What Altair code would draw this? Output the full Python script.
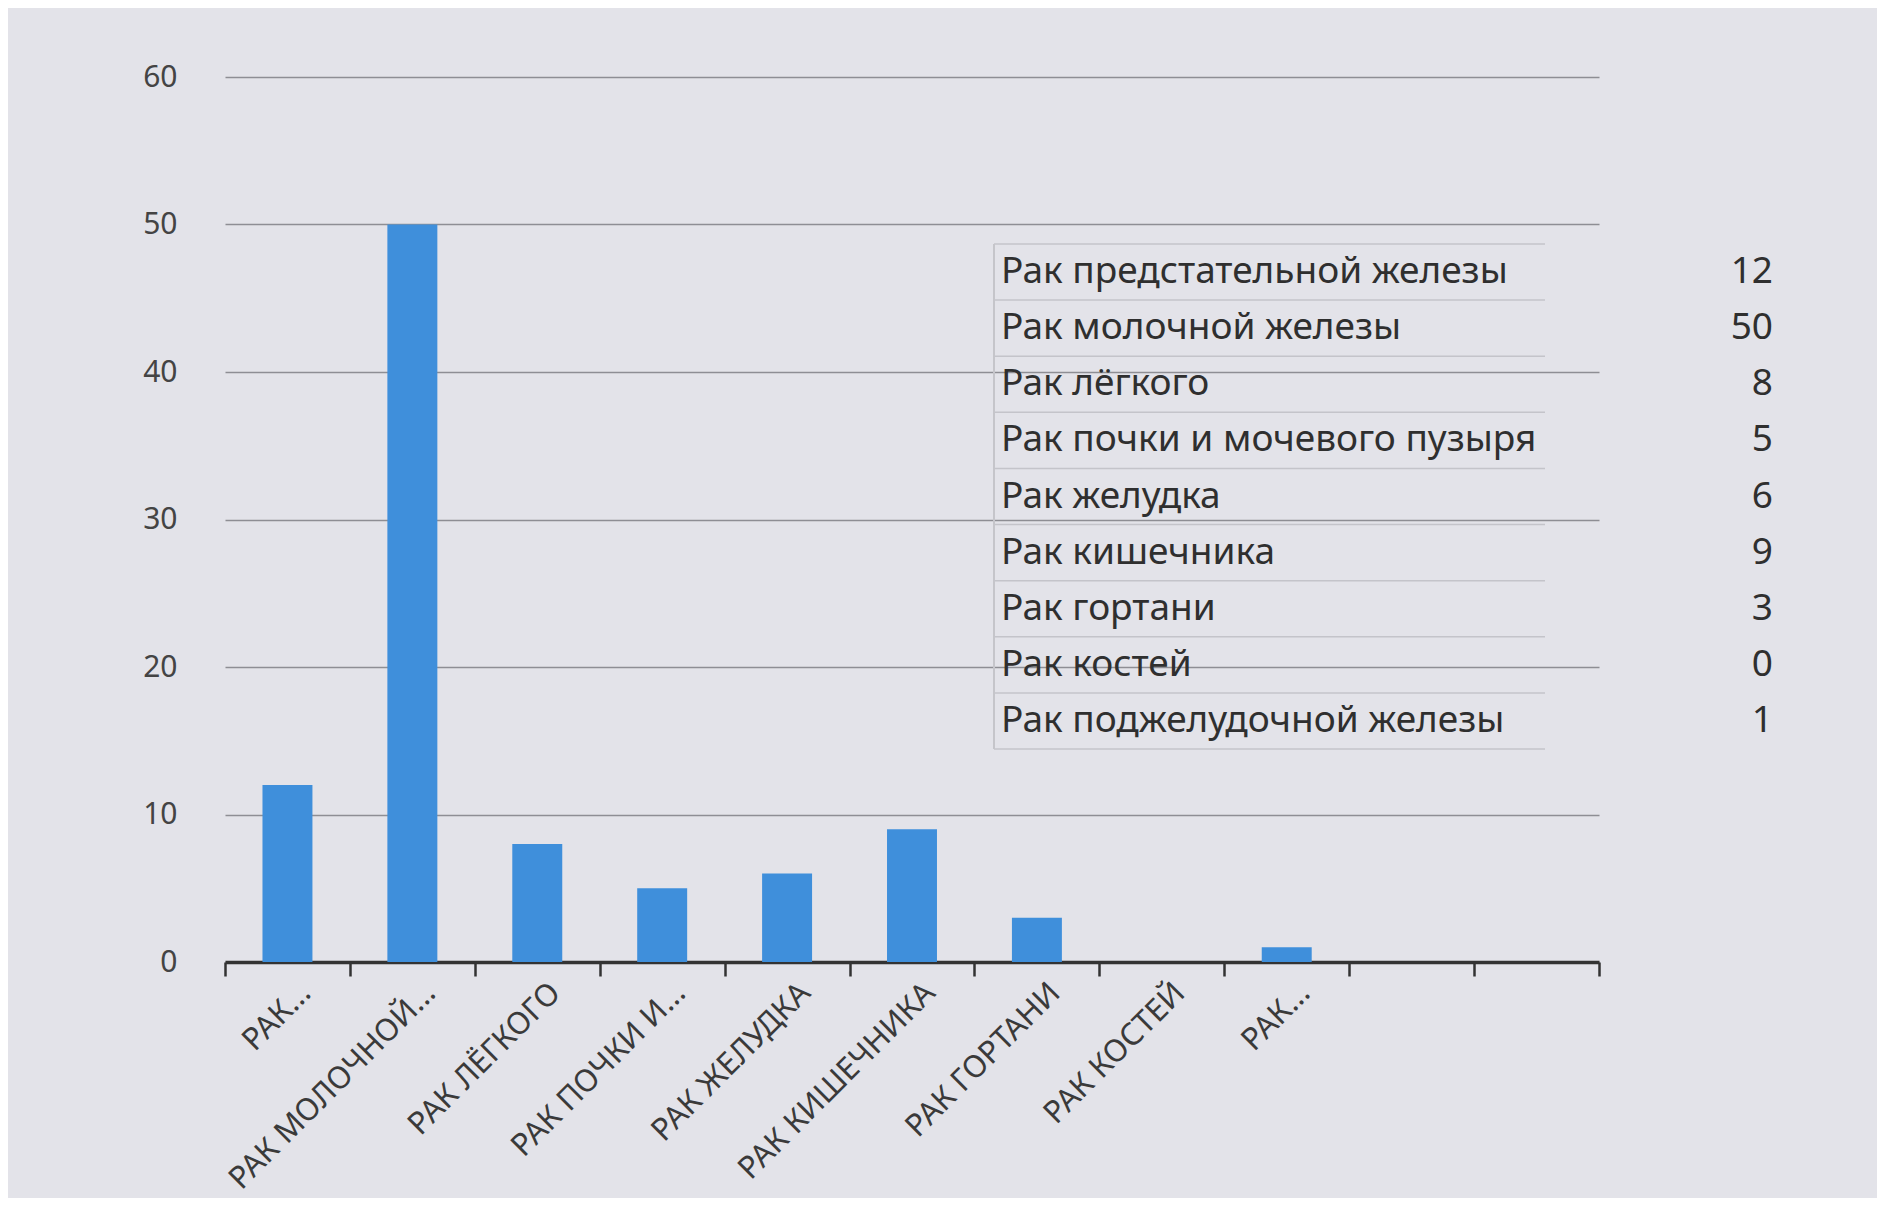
import json
import altair as alt
import pandas as pd

# ---- data ----
categories = [
    "Рак предстательной железы",
    "Рак молочной железы",
    "Рак лёгкого",
    "Рак почки и мочевого пузыря",
    "Рак желудка",
    "Рак кишечника",
    "Рак гортани",
    "Рак костей",
    "Рак поджелудочной железы",
]
values = [12, 50, 8, 5, 6, 9, 3, 0, 1]
axis_labels = [
    "РАК...", "РАК МОЛОЧНОЙ...", "РАК ЛЁГКОГО", "РАК ПОЧКИ И...",
    "РАК ЖЕЛУДКА", "РАК КИШЕЧНИКА", "РАК ГОРТАНИ", "РАК КОСТЕЙ", "РАК...", "", "",
]
y_ticks = [0, 10, 20, 30, 40, 50, 60]

FONT = "Noto Sans"
BAR = "#3f8fdb"
BG = "#e3e3e9"

n_slots = len(axis_labels)
bars_df = pd.DataFrame({"slot": list(range(len(values))), "name": categories, "value": values})
table_df = pd.DataFrame({"row": list(range(len(categories))), "name": categories, "value": values})
lines_df = pd.DataFrame({"b": [i - 0.5 for i in range(len(categories) + 1)]})

label_expr = json.dumps(axis_labels, ensure_ascii=False) + "[datum.value]"

bars = alt.Chart(bars_df).mark_bar(color=BAR, width=alt.RelativeBandSize(0.4)).encode(
    x=alt.X(
        "slot:O",
        scale=alt.Scale(domain=list(range(n_slots)), paddingInner=0, paddingOuter=0),
        axis=alt.Axis(
            title=None,
            labelExpr=label_expr,
            labelAngle=-45,
            labelAlign="right",
            labelBaseline="middle",
            labelFontSize=31,
            labelFont=FONT,
            labelColor="#3a3a3a",
            labelPadding=12,
            labelOffset=18,
            labelLimit=0,
            tickBand="extent",
            tickColor="#333333",
            tickWidth=2.5,
            tickSize=14,
            domainColor="#333333",
            domainWidth=3.5,
            grid=False,
        ),
    ),
    y=alt.Y(
        "value:Q",
        scale=alt.Scale(domain=[0, 60]),
        axis=alt.Axis(
            title=None,
            values=y_ticks,
            grid=True,
            gridColor="#8e8e94",
            gridWidth=1.5,
            domain=False,
            ticks=False,
            labelFontSize=30,
            labelFont=FONT,
            labelColor="#444444",
            labelPadding=48,
        ),
    ),
)

row_scale = alt.Scale(domain=[0, len(categories) - 1], range=[195, 644])

table_names = alt.Chart(table_df).mark_text(
    align="left", baseline="middle", font=FONT, fontSize=37, color="#2f2f2f"
).encode(
    x=alt.value(776),
    y=alt.Y("row:Q", scale=row_scale, axis=None),
    text="name:N",
)

table_values = alt.Chart(table_df).mark_text(
    align="right", baseline="middle", font=FONT, fontSize=37, color="#2f2f2f"
).encode(
    x=alt.value(1548),
    y=alt.Y("row:Q", scale=row_scale, axis=None),
    text="value:Q",
)

table_lines = alt.Chart(lines_df).mark_rule(color="#c4c4ca", strokeWidth=1.5).encode(
    x=alt.value(769),
    x2=alt.value(1320),
    y=alt.Y("b:Q", scale=alt.Scale(domain=[0, len(categories) - 1], range=[195, 644]), axis=None),
)

table_left = alt.Chart(lines_df).mark_rule(color="#c4c4ca", strokeWidth=1.5).encode(
    x=alt.value(769),
    y=alt.value(167),
    y2=alt.value(672),
)

chart = (
    alt.layer(bars, table_lines, table_left, table_names, table_values)
    .resolve_scale(y="independent", x="independent")
    .properties(
        width=1374,
        height=885,
        autosize=alt.AutoSizeParams(type="none"),
        padding={"left": 217, "top": 69, "right": 278, "bottom": 236},
        background=BG,
    )
    .configure_view(stroke=None)
)

chart.save("out.html", embed_options={"renderer": "svg", "actions": False})
